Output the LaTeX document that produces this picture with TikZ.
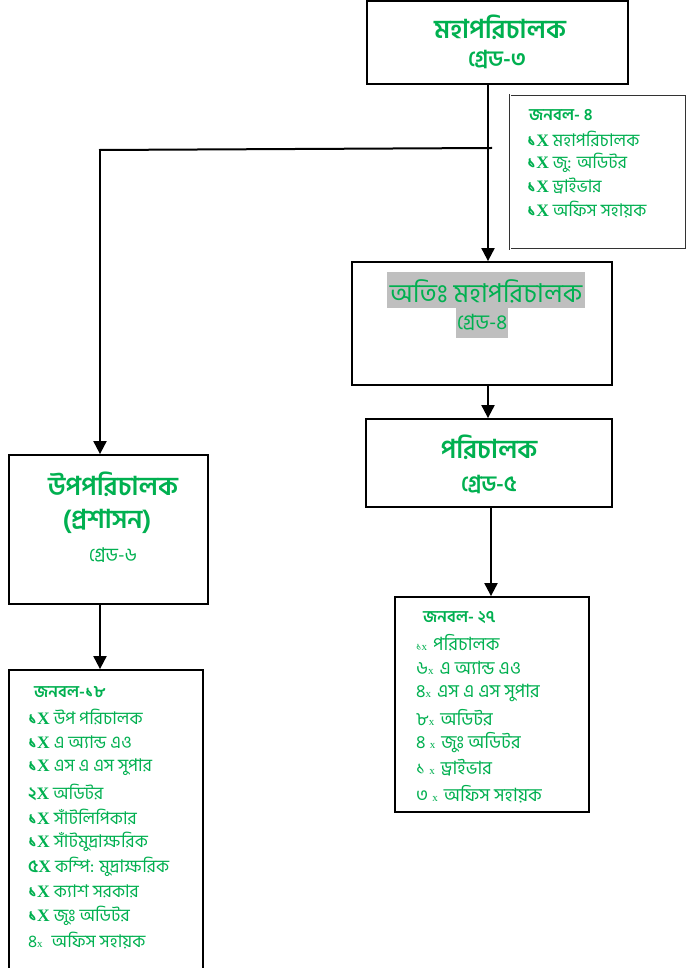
\documentclass[tikz,border=0pt]{standalone}
\usepackage{fontspec}
\usetikzlibrary{arrows.meta}
\newfontfamily\bn[Script=Bengali]{Hind Siliguri}
\newfontfamily\lat{Liberation Serif}
\definecolor{grn}{RGB}{0,176,80}
\definecolor{hl}{RGB}{191,191,191}
\tikzset{
  box/.style={draw=black, line width=1.8pt, fill=white, inner sep=0pt},
  title/.style={text=grn, font=\bn\bfseries\fontsize{26}{28}\selectfont, inner sep=0pt},
  grade/.style={text=grn, font=\bn\fontsize{21}{23}\selectfont, inner sep=0pt},
  gradeb/.style={text=grn, font=\bn\bfseries\fontsize{22}{24}\selectfont, inner sep=0pt},
  itemb/.style={text=grn, font=\bn\fontsize{17.5}{19}\selectfont, anchor=west, inner sep=0pt},
  itemc/.style={text=grn, font=\bn\fontsize{18.3}{20}\selectfont, anchor=west, inner sep=0pt},
  headb/.style={text=grn, font=\bn\bfseries\fontsize{16.5}{18}\selectfont, anchor=west, inner sep=0pt},
  conn/.style={line width=2pt, -{Triangle[width=13pt,length=13pt]}},
  plain/.style={line width=2pt}
}
\newcommand{\BX}[1]{{\bfseries #1\lat\bfseries X}}
\newcommand{\SX}[1]{{\lat\fontsize{11}{12}\selectfont #1}}
\newcommand{\SD}[1]{{\fontsize{11}{12}\selectfont #1}}
\begin{document}
\begin{tikzpicture}[x=1pt,y=-1pt]
\useasboundingbox (0,0) rectangle (688,968);
% boxes
\node[box, minimum width=261pt, minimum height=83pt] (top) at (497.5,42.5) {};
\node[draw=black!80, double=white, double distance=1pt, line width=0.9pt, fill=white, minimum width=176pt, minimum height=154pt, inner sep=0pt] (staff1) at (598,172) {};
\node[box, minimum width=260pt, minimum height=123pt] (sec) at (482,323.5) {};
\node[box, minimum width=246pt, minimum height=88pt] (dir) at (489,463) {};
\node[box, minimum width=199pt, minimum height=149pt] (dep) at (108.5,529.5) {};
\node[box, minimum width=194pt, minimum height=215pt] (staff2) at (492,704.5) {};
\node[box, minimum width=194pt, minimum height=310pt] (staff3) at (106,825) {};
% top box text
\node[title] (t1) at (500,27) {মহাপরিচালক};
\node[gradeb] (t2) at (497,60) {গ্রেড-৩};
% staff1
\node[headb] (s1h) at (529,115) {জনবল- ৪};
\node[itemb] (s1a) at (527,139) {\BX{১} মহাপরিচালক};
\node[itemb] (s1b) at (527,163) {\BX{১} জু: অডিটর};
\node[itemb] (s1c) at (527,186) {\BX{১} ড্রাইভার};
\node[itemb] (s1d) at (527,210) {\BX{১} অফিস সহায়ক};
% second box
\node[fill=hl, minimum width=198pt, minimum height=36pt, inner sep=0pt] (a1bg) at (486,290) {};
\node[fill=hl, minimum width=52pt, minimum height=30pt, inner sep=0pt] (a2bg) at (482,323) {};
\node[title, font=\bn\fontsize{26}{28}\selectfont] (a1) at (486,291) {অতিঃ মহাপরিচালক};
\node[grade] (a2) at (482,322) {গ্রেড-৪};
% director
\node[title] (d1) at (489,447) {পরিচালক};
\node[gradeb] (d2) at (489,484) {গ্রেড-৫};
% deputy
\node[title] (u1) at (113,484) {উপপরিচালক};
\node[title] (u2) at (107,521) {(প্রশাসন)};
\node[grade, font=\bn\fontsize{19}{21}\selectfont] (u3) at (113,555) {গ্রেড-৬};
% staff2
\node[headb] (r0) at (423,618) {জনবল- ২৭};
\node[itemc] (r1) at (416,643) {\SD{১}\SX{x}\hspace{6pt}পরিচালক};
\node[itemc] (r2) at (416,668) {৬\SX{x}\hspace{6pt}এ অ্যান্ড এও};
\node[itemc] (r3) at (416,693) {৪\SX{x}\hspace{6pt}এস এ এস সুপার};
\node[itemc] (r4) at (416,718) {৮\SX{x}\hspace{6pt}অডিটর};
\node[itemc] (r5) at (416,743) {৪ \SX{x}\hspace{6pt}জুঃ অডিটর};
\node[itemc] (r6) at (416,768) {১ \SX{x}\hspace{6pt}ড্রাইভার};
\node[itemc] (r7) at (416,794) {৩ \SX{x}\hspace{6pt}অফিস সহায়ক};
% staff3
\node[headb] (l0) at (34,692) {জনবল-১৮};
\node[itemb] (l1) at (28,717) {\BX{১} উপ পরিচালক};
\node[itemb] (l2) at (28,742) {\BX{১} এ অ্যান্ড এও};
\node[itemb] (l3) at (28,767) {\BX{১} এস এ এস সুপার};
\node[itemb] (l4) at (28,792) {\BX{২} অডিটর};
\node[itemb] (l5) at (28,817) {\BX{১} সাঁটলিপিকার};
\node[itemb] (l6) at (28,842) {\BX{১} সাঁটমুদ্রাক্ষরিক};
\node[itemb] (l7) at (28,867) {\BX{৫} কম্পি: মুদ্রাক্ষরিক};
\node[itemb] (l8) at (28,891) {\BX{১} ক্যাশ সরকার};
\node[itemb] (l9) at (28,916) {\BX{১} জুঃ অডিটর};
\node[itemb] (l10) at (28,941) {৪\SX{x}\hspace{9pt}অফিস সহায়ক};
% connectors
\coordinate (cx) at (488,0);
\coordinate (bx) at (491,0);
\coordinate (lx) at (100,0);
\coordinate (hr) at (491,148);
\coordinate (hl) at (100,150);
\draw[conn] (cx |- top.south) -- (cx |- sec.north);
\draw[plain, line cap=rect] (hr) -- (hl);
\draw[conn] (hl) -- (lx |- dep.north);
\draw[conn] (cx |- sec.south) -- (cx |- dir.north);
\draw[conn] (bx |- dir.south) -- (bx |- staff2.north);
\draw[conn] (lx |- dep.south) -- (lx |- staff3.north);
\end{tikzpicture}
\end{document}
